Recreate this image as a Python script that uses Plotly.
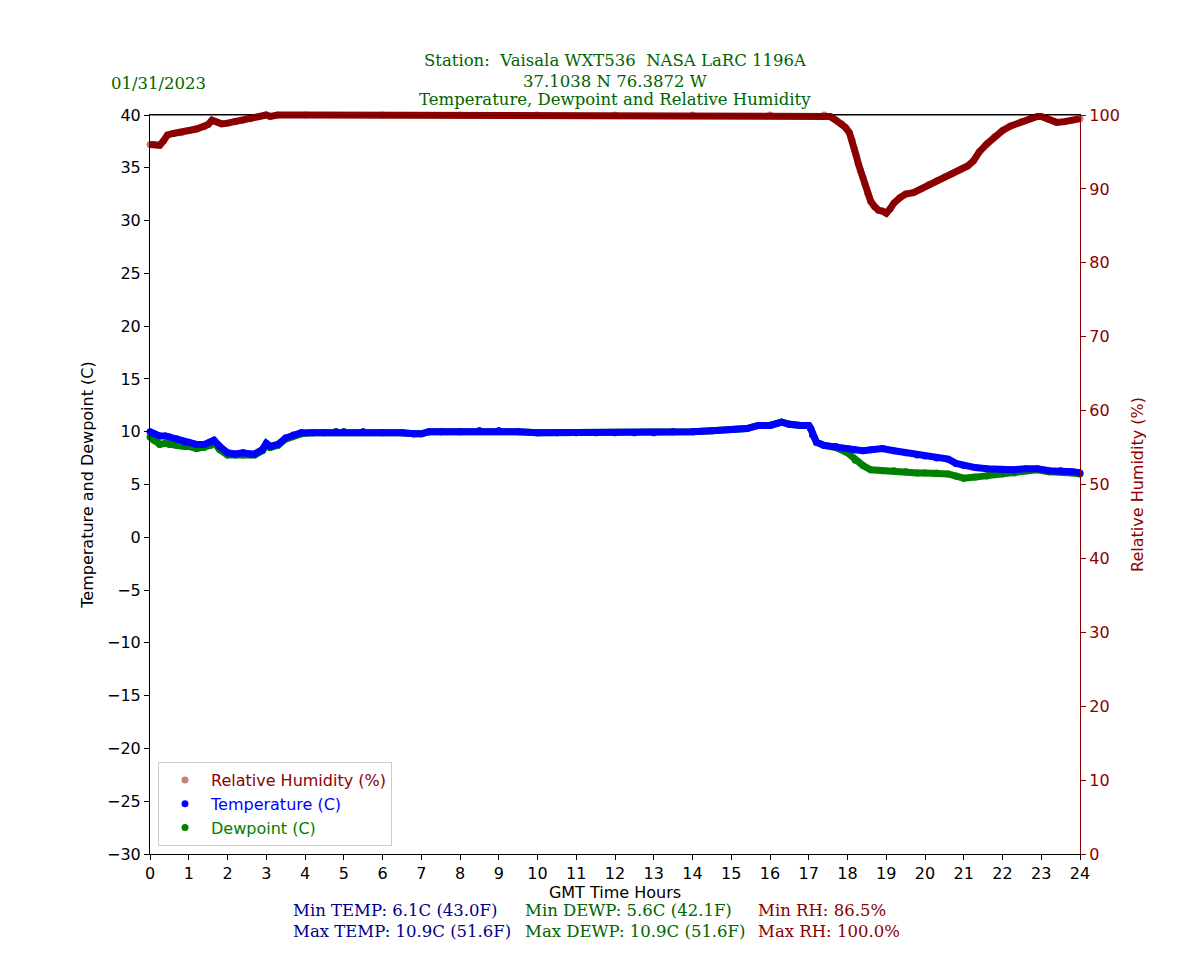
import plotly.graph_objects as go

# hours (GMT) for temperature / dewpoint readings
hours = [0.0, 0.1, 0.25, 0.4, 0.5, 0.7, 0.9, 1.0, 1.2, 1.4, 1.55, 1.65, 1.8, 2.0,
         2.2, 2.4, 2.6, 2.7, 2.9, 3.0, 3.1, 3.3, 3.5, 3.7, 3.9, 4.2, 4.5, 4.8,
         5.0, 5.5, 6.0, 6.5, 6.8, 7.0, 7.2, 7.5, 8.0, 8.5, 9.0, 9.5, 10.0, 10.5,
         11.0, 11.5, 12.0, 12.5, 13.0, 13.5, 14.0, 14.5, 15.0, 15.4, 15.7, 16.0,
         16.3, 16.5, 16.8, 17.0, 17.05, 17.1, 17.2, 17.4, 17.7, 18.0, 18.2, 18.4,
         18.6, 18.9, 19.2, 19.5, 19.8, 20.0, 20.3, 20.6, 20.8, 21.0, 21.3, 21.6, 22.0,
         22.3, 22.6, 22.9, 23.2, 23.5, 23.8, 24.0]

temp_c = [10.0, 9.8, 9.6, 9.6, 9.5, 9.3, 9.0, 9.0, 8.8, 8.8, 9.0, 9.2, 8.6, 8.0,
          7.9, 8.0, 7.9, 7.9, 8.3, 8.9, 8.6, 8.8, 9.4, 9.7, 9.9, 9.9, 9.9, 10.0,
          10.0, 10.0, 9.9, 9.9, 9.8, 9.8, 10.0, 10.0, 10.0, 10.1, 10.1, 10.0, 9.9, 9.9,
          9.9, 9.9, 9.9, 9.9, 9.9, 10.0, 10.0, 10.1, 10.2, 10.3, 10.6, 10.6,
          10.9, 10.7, 10.6, 10.6, 10.3, 9.7, 9.0, 8.7, 8.6, 8.4, 8.3, 8.2,
          8.3, 8.4, 8.2, 8.0, 7.8, 7.7, 7.5, 7.4, 7.0, 6.8, 6.6, 6.5, 6.4,
          6.4, 6.5, 6.5, 6.3, 6.3, 6.2, 6.1]

dewp_c = [9.5, 9.2, 8.8, 8.9, 8.8, 8.7, 8.6, 8.6, 8.4, 8.5, 8.7, 9.0, 8.3, 7.8,
          7.8, 7.8, 7.8, 7.8, 8.2, 8.7, 8.5, 8.7, 9.3, 9.6, 9.8, 9.9, 9.9, 10.0,
          10.0, 10.0, 9.9, 9.9, 9.8, 9.8, 10.0, 10.0, 10.0, 10.1, 10.1, 10.0, 9.9, 9.9,
          9.9, 9.9, 9.9, 9.9, 9.9, 10.0, 10.0, 10.1, 10.2, 10.3, 10.6, 10.6,
          10.9, 10.7, 10.6, 10.6, 10.3, 9.7, 9.0, 8.7, 8.5, 8.0, 7.3, 6.8,
          6.4, 6.3, 6.3, 6.2, 6.1, 6.1, 6.1, 6.0, 5.8, 5.6, 5.7, 5.8, 6.0,
          6.1, 6.3, 6.4, 6.2, 6.2, 6.1, 6.0]

# hours (GMT) for relative humidity readings
rh_hours = [0.0, 0.1, 0.25, 0.35, 0.45, 0.6, 0.8, 1.0, 1.2, 1.4, 1.5, 1.6, 1.7, 1.85,
            2.0, 2.2, 2.4, 2.6, 2.8, 3.0, 3.1, 3.3, 4.0, 6.0, 8.0, 10.0, 12.0, 14.0,
            16.0, 17.4, 17.55, 17.7, 17.85, 17.95, 18.05, 18.12, 18.17, 18.22, 18.28,
            18.33, 18.4, 18.45, 18.52, 18.6, 18.7, 18.8, 18.9, 19.0, 19.1, 19.2,
            19.35, 19.5, 19.7, 19.9, 20.1, 20.3, 20.5, 20.7, 20.9, 21.1, 21.25,
            21.4, 21.6, 21.8, 22.0, 22.2, 22.5, 22.7, 22.9, 23.0, 23.2, 23.4, 23.6,
            23.8, 24.0]

rh_pct = [96.0, 96.0, 95.9, 96.5, 97.3, 97.5, 97.6, 97.9, 98.1, 98.4, 98.7, 99.3, 99.1, 98.8,
          98.9, 99.1, 99.3, 99.5, 99.8, 100.0, 99.8, 100.0, 100.0, 100.0, 100.0, 100.0, 100.0, 100.0,
          100.0, 100.0, 99.8, 99.3, 98.8, 98.3, 97.6, 96.6, 95.5, 94.6, 93.4,
          92.5, 91.5, 90.6, 89.4, 88.3, 87.6, 87.1, 87.0, 86.7, 87.3, 88.1,
          88.8, 89.3, 89.5, 90.0, 90.6, 91.1, 91.6, 92.1, 92.6, 93.1, 93.8,
          95.0, 96.1, 97.1, 97.9, 98.5, 99.1, 99.5, 99.8, 99.8, 99.4, 99.0, 99.1,
          99.3, 99.5]

x_ticks = list(range(0, 25))

station = "Station:  Vaisala WXT536  NASA LaRC 1196A"
coords = "37.1038 N 76.3872 W"
subtitle = "Temperature, Dewpoint and Relative Humidity"
date_str = "01/31/2023"
stats = [
    ("Min TEMP: 6.1C (43.0F)", "Max TEMP: 10.9C (51.6F)", "#00008B"),
    ("Min DEWP: 5.6C (42.1F)", "Max DEWP: 10.9C (51.6F)", "#006400"),
    ("Min RH: 86.5%", "Max RH: 100.0%", "#8B0000"),
]

DARKRED = "#8B0000"
SERIF = "DejaVu Serif"

# the axes box stops a few px below the top of the drawing area so the RH
# band at 100 % can spill over the top spine like matplotlib does
AX_TOP = 739 / 747

fig = go.Figure()

# dewpoint (bottom), temperature, then RH on the twin axis
fig.add_trace(go.Scatter(x=hours, y=dewp_c, mode="lines", line=dict(color="green", width=7),
                         showlegend=False, hoverinfo="skip"))
fig.add_trace(go.Scatter(x=hours, y=dewp_c, mode="markers", name="<span style='color:green'>Dewpoint (C)</span>",
                         marker=dict(color="green", size=7), legendrank=3, cliponaxis=False))
fig.add_trace(go.Scatter(x=hours, y=temp_c, mode="lines", line=dict(color="blue", width=7),
                         showlegend=False, hoverinfo="skip"))
fig.add_trace(go.Scatter(x=hours, y=temp_c, mode="markers", name="<span style='color:blue'>Temperature (C)</span>",
                         marker=dict(color="blue", size=7), legendrank=2, cliponaxis=False))
fig.add_trace(go.Scatter(x=rh_hours, y=rh_pct, mode="lines", line=dict(color=DARKRED, width=7),
                         showlegend=False, hoverinfo="skip", yaxis="y3"))
fig.add_trace(go.Scatter(x=rh_hours, y=rh_pct, mode="markers",
                         name="<span style='color:#8B0000'>Relative Humidity (%)</span>",
                         marker=dict(color="rgba(139,0,0,0.5)", size=7), legendrank=1,
                         yaxis="y2", cliponaxis=False))

# top spine drawn over the data
fig.add_shape(type="line", xref="paper", yref="y", x0=0, x1=1, y0=40, y1=40,
              line=dict(color="black", width=1), layer="above")

# titles
for txt, yp in [(station, 1.0616), (coords, 1.0348), (subtitle, 1.0100)]:
    fig.add_annotation(text=txt, x=0.5, y=yp, xref="paper", yref="paper", showarrow=False,
                       xanchor="center", yanchor="middle",
                       font=dict(family=SERIF, size=16.5, color="#006400"))
fig.add_annotation(text=date_str, x=-0.0445, y=1.0308, xref="paper", yref="paper", showarrow=False,
                   xanchor="left", yanchor="middle", font=dict(family=SERIF, size=16.5, color="#006400"))

# min / max summary under the x axis
for (lo, hi, col), xp in zip(stats, [0.1516, 0.4010, 0.6516]):
    fig.add_annotation(text=lo, x=xp, y=-0.0763, xref="paper", yref="paper", showarrow=False,
                       xanchor="left", yanchor="middle", font=dict(family=SERIF, size=16.5, color=col))
    fig.add_annotation(text=hi, x=xp, y=-0.1031, xref="paper", yref="paper", showarrow=False,
                       xanchor="left", yanchor="middle", font=dict(family=SERIF, size=16.5, color=col))

fig.update_layout(
    width=1200, height=960,
    margin=dict(l=142, r=128, t=99, b=114),
    paper_bgcolor="white", plot_bgcolor="rgba(0,0,0,0)",
    font=dict(family="DejaVu Sans", size=16, color="black"),
    xaxis=dict(range=[0, 24], tickvals=x_ticks, ticks="outside", ticklen=5, tickcolor="black",
               showline=True, linecolor="black", linewidth=1, mirror=True, showgrid=False,
               zeroline=False,
               title=dict(text="GMT Time Hours", standoff=1, font=dict(size=16))),
    yaxis=dict(domain=[0, AX_TOP], range=[-30, 40], dtick=5, ticks="outside", ticklen=5,
               tickcolor="black", showline=True, linecolor="black", linewidth=1, showgrid=False,
               zeroline=False,
               title=dict(text="Temperature and Dewpoint (C)", standoff=9, font=dict(size=16))),
    yaxis2=dict(range=[0, 100], dtick=10, overlaying="y", side="right", ticks="outside", ticklen=5,
                tickcolor=DARKRED, tickfont=dict(color=DARKRED), showline=True, linecolor=DARKRED,
                linewidth=1.2, showgrid=False, zeroline=False,
                title=dict(text="Relative Humidity (%)", standoff=12, font=dict(size=16, color=DARKRED))),
    yaxis3=dict(domain=[0, 1], range=[0, 100 / AX_TOP], anchor="x", visible=False,
                showgrid=False, zeroline=False),
    legend=dict(x=0.0086, y=0.0107, xanchor="left", yanchor="bottom", bgcolor="white",
                bordercolor="#cccccc", borderwidth=1, font=dict(size=16), itemwidth=42,
                tracegroupgap=0),
    showlegend=True,
)

fig.write_html("out.html")
